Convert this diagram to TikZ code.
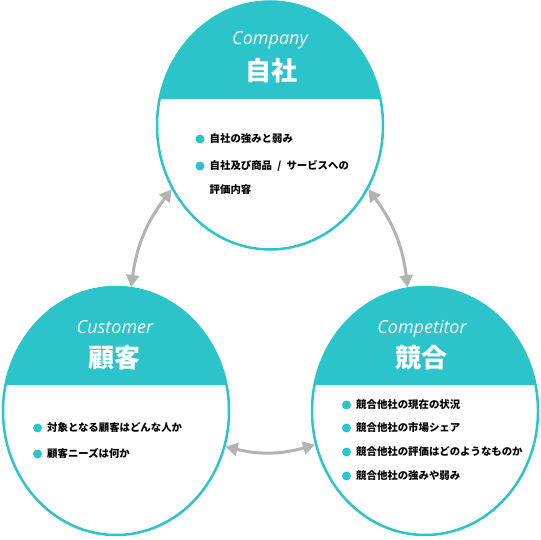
\documentclass[tikz,border=0pt]{standalone}
\usepackage{fontspec}
\usepackage{tikz}
\usetikzlibrary{shapes.geometric,arrows.meta}
\newfontfamily\jpfont{Noto Sans CJK JP}
\newfontfamily\enfont{Open Sans}
\definecolor{tealc}{HTML}{2BC4CB}
\definecolor{linkgray}{HTML}{B3B3B3}
\newcommand{\pointdot}[1]{\fill[tealc] ([xshift=-9.5pt]#1.west) circle (4.5pt);}

\tikzset{
  field/.style={ellipse,draw=tealc,line width=2.5pt,minimum width=226pt,minimum height=248pt,inner sep=0pt,
    path picture={\fill[tealc] (path picture bounding box.north west) rectangle ([yshift=-98pt]path picture bounding box.north east);}},
  entitle/.style={text=white,inner sep=0pt,text height=13pt,text depth=4pt,font=\enfont\itshape\fontsize{18}{20}\selectfont},
  jptitle/.style={text=white,inner sep=0pt,text height=22.9pt,text depth=3.1pt,font=\jpfont\bfseries\fontsize{26}{28}\selectfont},
  point/.style={anchor=west,inner sep=0pt,text height=9.15pt,text depth=1.25pt,font=\jpfont\bfseries\fontsize{10.4}{12}\selectfont},
  link/.style={draw=linkgray,line width=3pt,{Triangle[length=12pt,width=13pt]}-{Triangle[length=12pt,width=13pt]}}
}

\begin{document}
\begin{tikzpicture}[x=1pt,y=-1pt]
 \useasboundingbox (0,0) rectangle (540,540);
 % three fields
 \node[field] (company) at (270,125.5) {};
 \node[field] (customer) at (116,411) {};
 \node[field] (competitor) at (425,411) {};
 % headings
 \node[entitle] (company-en) at (270,40.5) {Company};
 \node[jptitle] (company-jp) at (271,71) {自社};
 \node[entitle] (customer-en) at (115,329) {Customer};
 \node[jptitle] (customer-jp) at (114,358) {顧客};
 \node[entitle] (competitor-en) at (422,329) {Competitor};
 \node[jptitle] (competitor-jp) at (421,358) {競合};
 % company points
 \node[point] (co1) at (209.5,139) {自社の強みと弱み};
 \node[point] (co2) at (209.5,166) {自社及び商品\enspace/\enspace サービスへの};
 \node[point] (co3) at (209.5,189.5) {評価内容};
 \pointdot{co1}
 \pointdot{co2}
 % customer points
 \node[point] (cu1) at (47,428) {対象となる顧客はどんな人か};
 \node[point] (cu2) at (47,454) {顧客ニーズは何か};
 \pointdot{cu1}
 \pointdot{cu2}
 % competitor points
 \node[point] (cp1) at (356,405) {競合他社の現在の状況};
 \node[point] (cp2) at (356,428) {競合他社の市場シェア};
 \node[point] (cp3) at (356,452) {競合他社の評価はどのようなものか};
 \node[point] (cp4) at (356,476) {競合他社の強みや弱み};
 \pointdot{cp1}
 \pointdot{cp2}
 \pointdot{cp3}
 \pointdot{cp4}
 % links
 \draw[link] (company.213) to[bend right=15] (customer.83);
 \draw[link] (company.327) to[bend left=15] (competitor.98);
 \draw[link] (customer.342) to[bend right=15] (competitor.197);
\end{tikzpicture}
\end{document}
